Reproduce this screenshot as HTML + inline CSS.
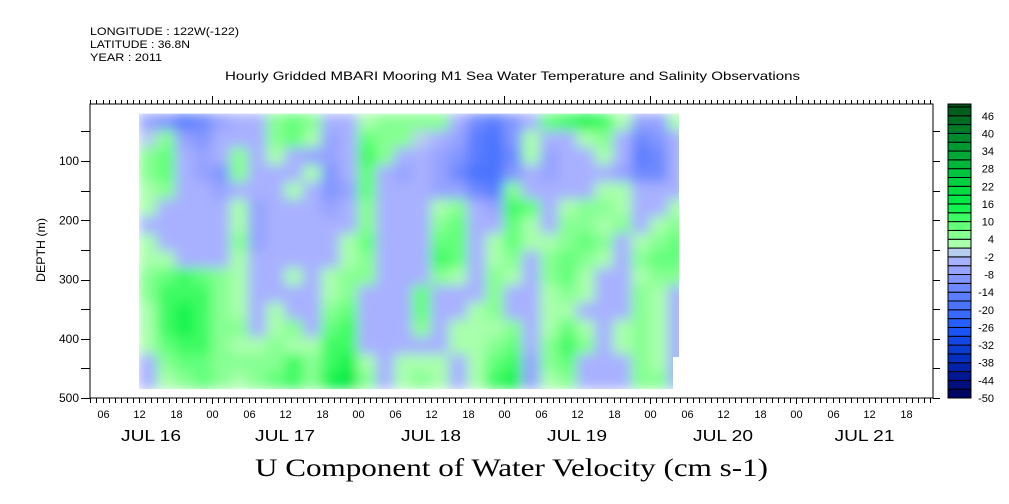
<!DOCTYPE html>
<html><head><meta charset="utf-8">
<style>
html,body{margin:0;padding:0;background:#fff;}
svg{display:block;font-family:"Liberation Sans",sans-serif;}
</style></head>
<body>
<svg id="chart" width="1009" height="504" viewBox="0 0 1009 504" xmlns="http://www.w3.org/2000/svg">
  <defs>
    <filter id="smooth" x="-0.05" y="-0.05" width="1.1" height="1.1">
      <feGaussianBlur stdDeviation="6" edgeMode="duplicate"/>
    </filter>
    <clipPath id="dataClip"><path id="clipPath" d=""/></clipPath>
  </defs>
  <rect x="0" y="0" width="1009" height="504" fill="#fff"/>
  <text x="90" y="35" font-size="11" textLength="149" lengthAdjust="spacingAndGlyphs">LONGITUDE : 122W(-122)</text>
  <text x="90" y="48" font-size="11" textLength="100" lengthAdjust="spacingAndGlyphs">LATITUDE : 36.8N</text>
  <text x="90" y="61" font-size="11" textLength="72" lengthAdjust="spacingAndGlyphs">YEAR : 2011</text>
  <text x="225" y="80" font-size="12" textLength="575" lengthAdjust="spacingAndGlyphs">Hourly Gridded MBARI Mooring M1 Sea Water Temperature and Salinity Observations</text>
  <g id="heat" clip-path="url(#dataClip)"><g id="cells" filter="url(#smooth)"></g></g>
  <g id="axes"></g>
  <g id="cbar"></g>
  <text transform="translate(45,250) rotate(-90)" font-size="12" text-anchor="middle" textLength="64" lengthAdjust="spacingAndGlyphs">DEPTH (m)</text>
  <text x="255" y="476" font-size="25" font-family="Liberation Serif, serif" textLength="513" lengthAdjust="spacingAndGlyphs">U Component of Water Velocity (cm s-1)</text>
</svg>
<script>
// ---- data ----
const times = [-12,-9,-6,-3,0,3,6,9,12,15,18,21,24,27,30,33,36,39,42,45,48,51,54,57,60,63,66,69,72,75]; // hours from JUL 17 00
const depths = [34.5,63.6,92.7,121.7,150.8,179.8,208.9,237.9,267,296,325.1,354.2,383.2,412.3,441.3,470.4];
const uValues = [
[-8,-10,-15,-12,-6,-5,-3,5,8,6,-3,-5,2,4,5,6,4,-3,-12,-15,-10,-3,8,12,15,10,2,-6,-8,3],
[-2,5,-8,-10,-5,-5,-3,6,8,3,-8,-5,8,5,4,-2,-5,-8,-15,-18,-10,2,-5,-3,3,5,-5,-12,-10,-5],
[5,8,-5,-8,-5,6,-3,2,-5,-8,-8,-5,10,5,-3,-3,-8,-10,-15,-20,-12,3,-8,-5,-3,2,-5,-15,-12,-3],
[5,8,-3,-8,-10,5,-5,-5,-3,2,-10,-5,8,-5,-8,-5,-8,-12,-18,-18,-10,-5,-8,-5,-3,-5,-8,-12,-12,-3],
[3,6,-3,-5,-8,-3,-5,-5,3,-5,-10,-8,8,-5,-5,-5,-8,-8,-12,-15,5,-3,-5,-5,-3,3,3,-5,-3,-3],
[2,-3,-5,-5,-5,3,-8,-5,-3,-3,-8,-5,5,-5,-3,-5,3,5,-5,-8,10,8,-3,3,5,5,3,-5,-3,3],
[-3,-5,-3,-5,-5,3,-8,-5,-5,-3,-5,-5,5,-5,-5,-5,5,8,-3,-5,8,3,-3,5,5,3,5,-3,2,5],
[2,-3,-5,-3,-3,5,-8,-5,-5,-5,-5,2,8,-3,-5,-5,8,8,-3,3,8,3,3,5,8,5,-3,3,5,8],
[3,3,-3,-5,-3,3,-5,-5,-5,-3,-5,3,5,-3,-5,-5,10,8,-3,3,5,-3,5,8,5,3,-3,5,8,8],
[5,8,10,8,5,3,-3,-5,2,-3,3,5,5,-3,-5,-3,5,3,-3,5,3,-3,5,8,3,-3,-3,3,5,5],
[5,10,12,10,5,3,-3,-5,-3,-3,3,5,-3,-5,-5,8,-3,-5,-3,5,-3,-5,3,5,3,-5,-3,5,3,-3],
[3,10,15,12,5,3,-3,3,-3,-5,5,8,-3,-5,-5,8,-3,-5,2,5,-3,-5,3,3,-3,-5,-5,5,3,-3],
[3,10,15,12,5,5,-3,3,5,-3,8,10,-3,-5,-3,5,-3,3,3,3,5,-5,3,8,3,-5,3,5,3,-3],
[3,8,12,10,5,3,3,5,3,3,10,12,-3,-3,-3,-3,-5,3,3,5,8,-5,5,10,5,-5,3,5,3,-3],
[-3,5,8,8,5,5,5,5,10,5,12,15,3,-3,3,3,3,-3,3,8,12,-8,5,8,-3,-5,-3,5,3,-3],
[-3,3,5,8,5,3,5,8,12,5,15,18,5,-3,3,5,3,-3,3,10,15,-8,3,5,-3,-5,-3,5,5,-3]
];
const hourLabels = ["06","12","18","00"];
const dayLabels = ["JUL 16","JUL 17","JUL 18","JUL 19","JUL 20","JUL 21"];
const depthTicks = [100,200,300,400,500];
const cbarLabels = [46,40,34,28,22,16,10,4,-2,-8,-14,-20,-26,-32,-38,-44,-50];

// ---- axes ----
const NS = "http://www.w3.org/2000/svg";
const PX_PER_H = 146/24;
const X0 = 212;                 // JUL 17 00
const xOf = h => X0 + h*PX_PER_H;
const yOf = d => 161 + (d-100)*0.5925;
const L = 90, R = 933, T = 104, B = 398;
const hMin = (L-X0)/PX_PER_H, hMax = (R-X0)/PX_PER_H;

function el(tag, attrs, parent){
  const e = document.createElementNS(NS, tag);
  for (const k in attrs) e.setAttribute(k, attrs[k]);
  parent.appendChild(e); return e;
}
function lerp(a,b,t){return a.map((v,i)=>Math.round(v+(b[i]-v)*t));}
const anchors = [[-50,[0,0,90]],[-38,[0,40,180]],[-26,[30,90,255]],[-14,[100,130,255]],[-5,[160,170,255]],[-1,[182,188,255]],
 [1,[185,255,185]],[5,[140,255,150]],[10,[80,255,110]],[16,[0,240,70]],[28,[0,190,60]],[40,[0,130,40]],[50,[0,80,25]]];
function colorOf(v){
  const b = Math.floor((v+50)/3); const c = -50 + b*3 + 1.5;
  for (let i=0;i<anchors.length-1;i++){
    if (c<=anchors[i+1][0]){
      const t=(c-anchors[i][0])/(anchors[i+1][0]-anchors[i][0]);
      const r=lerp(anchors[i][1],anchors[i+1][1],Math.max(0,Math.min(1,t)));
      return `rgb(${r[0]},${r[1]},${r[2]})`;
    }
  }
  return "rgb(0,80,25)";
}

// heatmap cells
const cells = document.getElementById("cells");
const dt = times[1]-times[0], dd = depths[1]-depths[0];
for (let r=0;r<depths.length;r++){
  for (let c=0;c<times.length;c++){
    const x1 = xOf(times[c]), x2 = xOf(times[c]+dt);
    const y1 = yOf(depths[r]-dd/2), y2 = yOf(depths[r]+dd/2);
    const rc = el("rect",{x:x1-0.5,y:y1-0.5,width:x2-x1+1,height:y2-y1+1,fill:colorOf(uValues[r][c])},cells);
    
    
  }
}
// clip region
const cx1 = xOf(times[0]), cx2 = 679, cx3 = 673;
const cy1 = yOf(depths[0]-dd/2), cy2 = yOf(depths[depths.length-1]+dd/2), cyN = 357;
document.getElementById("clipPath").setAttribute("d",
  `M${cx1},${cy1} H${cx2} V${cyN} H${cx3} V${cy2} H${cx1} Z`);

// frame & ticks
const axes = document.getElementById("axes");
const frame = el("rect",{x:L,y:T,width:R-L,height:B-T,fill:"none",stroke:"#000","stroke-width":1},axes);


for (let h=Math.ceil(hMin); h<=hMax; h++){
  const x = Math.round(xOf(h))+0.5;
  const major = ((h%24)+24)%24===0;
  el("line",{x1:x,x2:x,y1:T,y2:T-(major?8:4),stroke:"#000"},axes);
  el("line",{x1:x,x2:x,y1:B,y2:B+(major?6:5),stroke:"#000"},axes);
  const hh = ((h%24)+24)%24;
  if (hh%6===0){
    const t = el("text",{x:x,y:418,"font-size":11,"text-anchor":"middle"},axes);
    t.textContent = hourLabels[(hh/6+3)%4];
    
    
  }
}
for (let d=0; d<dayLabels.length; d++){
  const h0 = (d-1)*24, h1 = d*24;
  const xa = xOf(Math.max(h0,hMin)), xb = xOf(Math.min(h1,hMax));
  const t = el("text",{x:(xa+xb)/2-30,y:441,"font-size":16,textLength:60,lengthAdjust:"spacingAndGlyphs"},axes);
  t.textContent = dayLabels[d];
  
  
}
for (let d=50; d<=500; d+=50){
  const y = Math.round(yOf(d))+0.5;
  el("line",{x1:L-9,x2:L,y1:y,y2:y,stroke:"#000"},axes);
  el("line",{x1:R,x2:R+7,y1:y,y2:y,stroke:"#000"},axes);
}
depthTicks.forEach(d=>{
  const t = el("text",{x:79,y:yOf(d)+4,"font-size":12,"text-anchor":"end"},axes);
  t.textContent = d;
  
  
});

// colorbar
const cbar = document.getElementById("cbar");
const cbY = v => 398 - (v+50)*2.94;
for (let v=-50; v<50; v+=3){
  const y2 = cbY(v), y1 = Math.max(cbY(Math.min(v+3,50)), 104);
  const r = el("rect",{x:948,y:y1,width:23,height:y2-y1,fill:colorOf(v+0.5),stroke:"#000","stroke-width":1},cbar);
  
  
}
cbarLabels.forEach(v=>{
  const t = el("text",{x:994,y:cbY(v)+4,"font-size":11,"text-anchor":"end"},cbar);
  t.textContent = v;
  
  
});
</script>
</body></html>
